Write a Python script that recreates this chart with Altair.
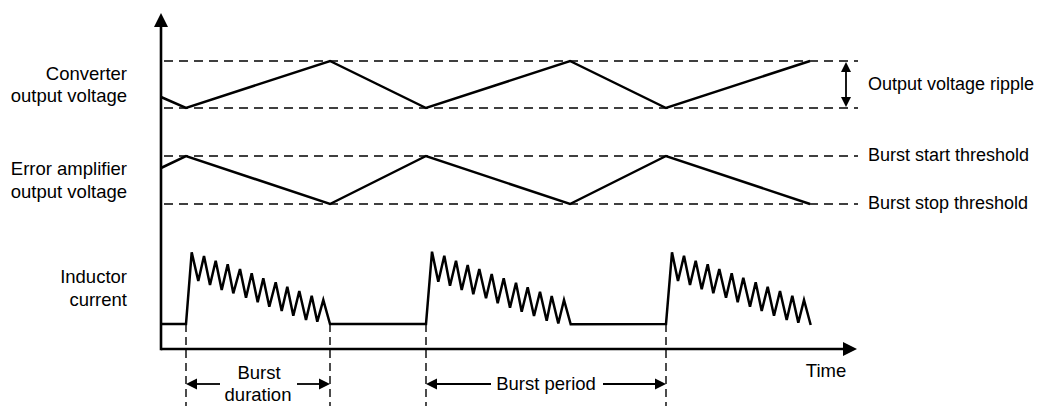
import altair as alt
import pandas as pd

# ---------------- data (diagram units: time t, level v) ----------------
# Converter output voltage (triangle ripple)
vout_t = [161, 186, 330, 426, 570, 666, 810]
vout_v = [97, 108, 61, 108, 61, 108, 61]

# Error amplifier output voltage
eamp_t = [161, 186, 330, 426, 570, 666, 810]
eamp_v = [168, 156, 204, 156, 204, 156, 204]

# Inductor current: idle level, then three bursts
idle_t = [161]
idle_v = [324]
burst1_t = [186, 191.7, 198.3, 204, 210, 215.7, 221.7, 227.7, 233.3, 240, 246, 251.7, 257.7,
            263.3, 269.3, 275.7, 281.7, 287.3, 293.3, 299.3, 306, 311.7, 317.3, 323.3, 330]
burst1_v = [324, 252.3, 281, 256, 285, 260.7, 290, 264.3, 293.3, 269, 297.7, 273.3, 302.3,
            278.3, 306.7, 282.3, 311, 286.7, 315.7, 291, 320, 295.7, 321.7, 300, 324]
burst2_t = [426, 432, 438.3, 444.3, 450, 456, 461.7, 467.7, 473.3, 479.3, 486, 491.7, 497.7,
            503.7, 510, 516, 521.7, 527.7, 534, 540, 546.7, 551.7, 558.3, 564, 570.7]
burst2_v = [324, 251.7, 281.7, 255.7, 285.7, 260.7, 290, 265, 294.3, 269, 298.3, 274, 303.3,
            278.3, 307.7, 282.7, 311.7, 287.3, 316, 291.7, 320.7, 296, 323.5, 300, 324.3]
burst3_t = [666, 672, 678, 684, 690, 695.7, 701.7, 707.7, 713.3, 719.3, 726, 731.7, 737.7,
            743.3, 750, 755.7, 761.7, 767.7, 774, 780, 786.7, 792.3, 798.3, 804, 810.7]
burst3_v = [324, 252.3, 281, 255.7, 285, 260.7, 289.3, 264.3, 293.3, 269, 297.7, 273.3, 302.3,
            277.7, 306.7, 282.3, 311, 286.7, 315.7, 291, 320, 295.7, 322.7, 300, 325]

# Threshold levels (dashed guides)
thr_levels = [61, 108, 156, 204]
thr_start = 164
thr_end = 858

# Burst event instants (vertical dashed markers)
event_t = [186, 330, 426, 666]

# Labels
left_labels = ["Converter", "output voltage", "Error amplifier", "output voltage", "Inductor", "current"]
left_label_v = [74, 96, 169, 192, 277, 300]
right_labels = ["Output voltage ripple", "Burst start threshold", "Burst stop threshold"]
right_label_v = [85, 156, 204]

# ---------------- scales ----------------
X0, X1 = 8, 1036
Y0, Y1 = 8, 406
W, H = X1 - X0, Y1 - Y0
xs = alt.Scale(domain=[X0, X1], nice=False, zero=False)
ys = alt.Scale(domain=[Y0, Y1], nice=False, zero=False, reverse=True)
FONT = "Liberation Sans"
FS = 18.5
INK = "#000000"


def X(f="t"):
    return alt.X(f"{f}:Q", scale=xs, axis=None)


def Y(f="v"):
    return alt.Y(f"{f}:Q", scale=ys, axis=None)


def series(ts, vs, name):
    return pd.DataFrame({"t": ts, "v": vs, "s": name, "i": range(len(ts))})


# signals
df_sig = pd.concat([
    series(vout_t, vout_v, "vout"),
    series(eamp_t, eamp_v, "eamp"),
    series(idle_t + burst1_t + burst2_t + burst3_t,
           idle_v + burst1_v + burst2_v + burst3_v, "il"),
])
signals = alt.Chart(df_sig).mark_line(color=INK, strokeWidth=2.5, strokeJoin="miter").encode(
    x=X(), y=Y(), detail="s:N", order="i:Q")

# dashed threshold lines
df_thr = pd.DataFrame({"t": [thr_start] * 4, "t2": [thr_end] * 4, "v": thr_levels})
thresholds = alt.Chart(df_thr).mark_rule(color=INK, strokeWidth=1.5, strokeDash=[9, 6]).encode(
    x=X(), x2="t2:Q", y=Y())

# vertical dashed event markers
df_ev = pd.DataFrame({"t": event_t, "v": [324] * 4, "v2": [406] * 4})
events = alt.Chart(df_ev).mark_rule(color=INK, strokeWidth=1.4, strokeDash=[8, 5]).encode(
    x=X(), y=Y(), y2="v2:Q")

# axes lines
df_ax = pd.DataFrame({"t": [161, 161], "t2": [161, 845], "v": [350.3, 349], "v2": [26, 349]})
axes = alt.Chart(df_ax).mark_rule(color=INK, strokeWidth=2.6).encode(
    x=X(), x2="t2:Q", y=Y(), y2="v2:Q")

# arrow shafts (dimension arrows)
df_sh = pd.DataFrame({
    "t": [197, 297, 437, 603, 846],
    "t2": [220, 319, 491, 655, 846],
    "v": [384, 384, 384, 384, 72],
    "v2": [384, 384, 384, 384, 97],
})
shafts = alt.Chart(df_sh).mark_rule(color=INK, strokeWidth=1.8).encode(
    x=X(), x2="t2:Q", y=Y(), y2="v2:Q")

# arrowheads
UP = "M0,-1L1,1L-1,1Z"
DOWN = "M0,1L1,-1L-1,-1Z"
LEFT = "M-1,0L1,-1L1,1Z"
RIGHT = "M1,0L-1,-1L-1,1Z"
heads_spec = [
    (161, 20, UP, 196),
    (850, 349, RIGHT, 196),
    (191.5, 384, LEFT, 121),
    (324.5, 384, RIGHT, 121),
    (431.5, 384, LEFT, 121),
    (660.5, 384, RIGHT, 121),
    (846, 67, UP, 100),
    (846, 102, DOWN, 100),
]
heads = []
for ht, hv, shp, sz in heads_spec:
    heads.append(alt.Chart(pd.DataFrame({"t": [ht], "v": [hv]})).mark_point(
        shape=shp, filled=True, size=sz, color=INK, opacity=1, strokeWidth=0).encode(x=X(), y=Y()))

# texts
df_left = pd.DataFrame({"t": [127] * len(left_labels), "v": left_label_v, "txt": left_labels})
t_left = alt.Chart(df_left).mark_text(align="right", baseline="middle", font=FONT, fontSize=FS,
                                      color=INK).encode(x=X(), y=Y(), text="txt:N")
df_right = pd.DataFrame({"t": [868] * 3, "v": right_label_v, "txt": right_labels})
t_right = alt.Chart(df_right).mark_text(align="left", baseline="middle", font=FONT, fontSize=18,
                                        color=INK).encode(x=X(), y=Y(), text="txt:N")
df_mid = pd.DataFrame({"t": [259, 258, 546, 826], "v": [373, 395, 384, 371],
                       "txt": ["Burst", "duration", "Burst period", "Time"]})
t_mid = alt.Chart(df_mid).mark_text(align="center", baseline="middle", font=FONT, fontSize=FS,
                                    color=INK).encode(x=X(), y=Y(), text="txt:N")

chart = alt.layer(thresholds, events, axes, shafts, signals, *heads, t_left, t_right, t_mid).properties(
    width=W, height=H, padding=0, background="white",
    autosize=alt.AutoSizeParams(type="none")
).configure_view(stroke=None, strokeWidth=0)

chart.save("out.html", embed_options={"renderer": "svg", "actions": False})
